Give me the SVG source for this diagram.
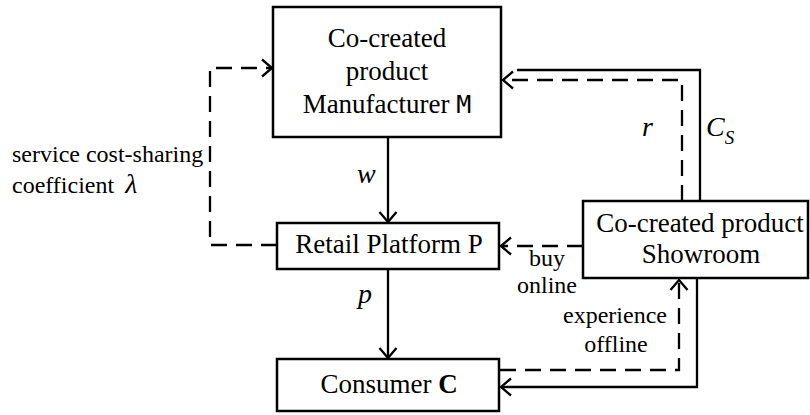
<svg xmlns="http://www.w3.org/2000/svg" width="810" height="415" viewBox="0 0 810 415" font-family="Liberation Serif, Times New Roman, Nimbus Roman, FreeSerif, Noto Serif, DejaVu Serif, serif">
  <style>
    .box { fill: #ffffff; stroke: #000000; stroke-width: 2.5; }
    .t { font-size: 27px; fill: #000000; }
    .lbl { font-size: 24px; fill: #000000; }
    .math { font-style: italic; font-size: 28px; fill: #000000; }
    .solid { fill: none; stroke: #000000; stroke-width: 2.3; }
    .dash { fill: none; stroke: #000000; stroke-width: 2.3; stroke-dasharray: 16 9; }
    .head { fill: none; stroke: #000000; stroke-width: 2.3; stroke-dasharray: none; }
  </style>
  <defs>
    <marker id="open-arrow" markerUnits="userSpaceOnUse" viewBox="-12 -11 14 22" markerWidth="14" markerHeight="22" refX="0" refY="0" orient="auto">
      <path class="head" d="M-10,-8.5 L0,0 L-10,8.5"/>
    </marker>
  </defs>

  <!-- connectors -->
  <g id="connectors">
    <!-- wholesale price w: manufacturer to platform -->
    <line class="solid" x1="388" y1="137" x2="388" y2="222" marker-end="url(#open-arrow)"/>
    <!-- retail price p: platform to consumer -->
    <line class="solid" x1="388" y1="269" x2="388" y2="358" marker-end="url(#open-arrow)"/>
    <!-- cost-sharing loop: platform back to manufacturer -->
    <path class="dash" d="M277,245 H210 V68 H272" marker-end="url(#open-arrow)"/>
    <!-- buy online: showroom to platform -->
    <path class="dash" d="M583,246 H501" marker-end="url(#open-arrow)"/>
    <!-- r: showroom to manufacturer -->
    <path class="dash" d="M682,201 V80 H503" marker-end="url(#open-arrow)"/>
    <!-- C_S: showroom to manufacturer -->
    <path class="solid" d="M700,201 V70 H517"/>
    <!-- experience offline: consumer to showroom -->
    <path class="dash" d="M500,370 H679 V280" marker-end="url(#open-arrow)"/>
    <!-- showroom to consumer -->
    <path class="solid" d="M697,278 V387 H501" marker-end="url(#open-arrow)"/>
  </g>

  <!-- nodes -->
  <g id="manufacturer">
    <rect class="box" x="273" y="7" width="228" height="130"/>
    <text class="t" x="387" y="47" text-anchor="middle">Co-created</text>
    <text class="t" x="387" y="80" text-anchor="middle">product</text>
    <text class="t" x="387" y="113" text-anchor="middle">Manufacturer <tspan font-family="DejaVu Sans Mono, monospace" font-size="25">M</tspan></text>
  </g>

  <g id="platform">
    <rect class="box" x="277" y="223" width="222" height="46"/>
    <text class="t" x="389" y="253" text-anchor="middle">Retail Platform P</text>
  </g>

  <g id="showroom">
    <rect class="box" x="583" y="201" width="225" height="77"/>
    <text class="t" x="700" y="232" text-anchor="middle">Co-created product</text>
    <text class="t" x="701" y="263" text-anchor="middle">Showroom</text>
  </g>

  <g id="consumer">
    <rect class="box" x="277" y="359" width="222" height="52"/>
    <text class="t" x="389" y="393" text-anchor="middle">Consumer <tspan font-weight="bold">C</tspan></text>
  </g>

  <!-- edge labels -->
  <g id="labels">
    <text class="lbl" x="12" y="162">service cost-sharing</text>
    <text class="lbl" x="12" y="193">coefficient <tspan class="math" font-size="30" dx="5">λ</tspan></text>
    <text class="math" x="357" y="183">w</text>
    <text class="math" x="358" y="303">p</text>
    <text class="math" x="642" y="136">r</text>
    <text class="math" x="706" y="136">C<tspan font-size="19" dy="8">S</tspan></text>
    <text class="lbl" x="547" y="266" text-anchor="middle">buy</text>
    <text class="lbl" x="547" y="293" text-anchor="middle">online</text>
    <text class="lbl" x="615" y="323" text-anchor="middle">experience</text>
    <text class="lbl" x="616" y="352" text-anchor="middle">offline</text>
  </g>
</svg>
